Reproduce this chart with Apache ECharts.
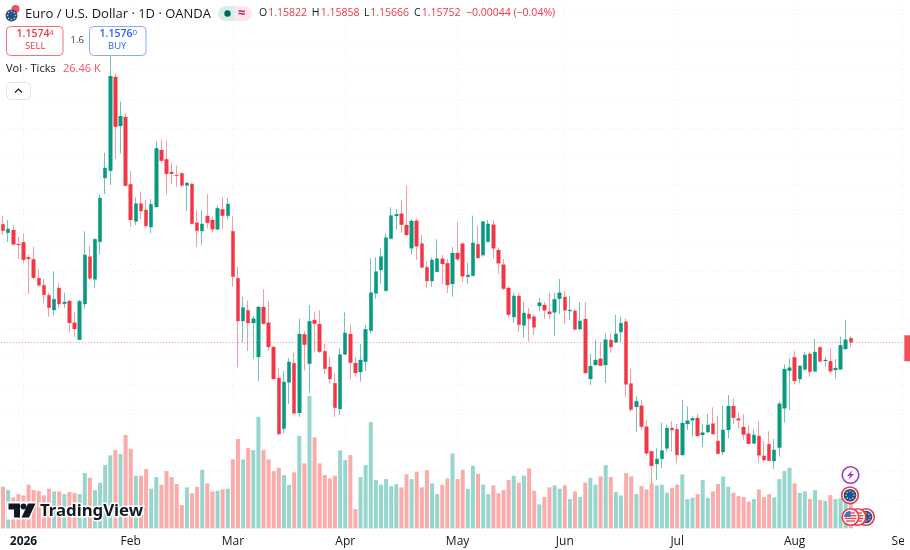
<!DOCTYPE html>
<html>
<head>
<meta charset="utf-8">
<style>html,body{margin:0;padding:0;background:#fff;overflow:hidden}#c{width:910px;height:550px}</style>
<script src="https://cdn.jsdelivr.net/npm/echarts@6/dist/echarts.min.js"></script>
</head>
<body>
<div id="c"></div>
<script>
const opens=[1.17813,1.17667,1.17714,1.17469,1.17499,1.17237,1.17202,1.1687,1.16748,1.16573,1.16316,1.16701,1.16426,1.16473,1.16094,1.15797,1.16421,1.17247,1.16853,1.17509,1.18622,1.1875,1.20387,1.19531,1.19688,1.18512,1.17866,1.18173,1.18063,1.17766,1.18116,1.19111,1.18949,1.18727,1.18675,1.18704,1.18495,1.18517,1.17841,1.17696,1.17958,1.17889,1.17726,1.18075,1.17964,1.17691,1.1687,1.16124,1.16311,1.16089,1.15495,1.16369,1.16094,1.1567,1.15128,1.14243,1.15053,1.15385,1.14517,1.15892,1.15378,1.16142,1.16072,1.15595,1.1532,1.15036,1.14587,1.15542,1.15897,1.1539,1.15233,1.15413,1.15955,1.16608,1.17015,1.16653,1.17562,1.17958,1.17999,1.17801,1.17394,1.17876,1.17474,1.17062,1.16823,1.16985,1.17212,1.17132,1.1677,1.17312,1.17474,1.16898,1.16915,1.17464,1.17277,1.17509,1.17806,1.17364,1.17108,1.16701,1.16194,1.16561,1.16049,1.16246,1.16199,1.16386,1.16404,1.16287,1.16276,1.16514,1.16543,1.16299,1.16299,1.15984,1.16159,1.15111,1.15355,1.15465,1.15355,1.15792,1.15752,1.15932,1.16112,1.15029,1.14622,1.14644,1.14277,1.13848,1.13626,1.13718,1.139,1.14255,1.14232,1.13783,1.14325,1.14389,1.1443,1.14132,1.14185,1.1433,1.14028,1.13835,1.1422,1.14639,1.14417,1.14272,1.14155,1.13987,1.14115,1.13766,1.1397,1.13678,1.13911,1.14599,1.15256,1.1549,1.15111,1.1528,1.15548,1.15245,1.15665,1.15425,1.1542,1.15268,1.1528,1.15635,1.15822];
const highs=[1.17958,1.17889,1.17801,1.17597,1.17656,1.17282,1.17422,1.17027,1.16858,1.16618,1.16992,1.16783,1.16618,1.16479,1.16281,1.16491,1.17691,1.17434,1.17569,1.1833,1.19064,1.20754,1.20451,1.19962,1.19753,1.18744,1.18285,1.18378,1.18238,1.18255,1.19263,1.19286,1.19274,1.1889,1.18844,1.18715,1.1854,1.1854,1.18063,1.18063,1.18337,1.17946,1.18145,1.18285,1.18273,1.17953,1.17073,1.16549,1.16479,1.16211,1.16386,1.16678,1.16468,1.15675,1.15298,1.15251,1.15478,1.1557,1.16164,1.15944,1.16404,1.16287,1.16311,1.15722,1.1549,1.1521,1.15647,1.16276,1.16059,1.155,1.15717,1.16054,1.17219,1.17237,1.17394,1.17656,1.1811,1.18081,1.18238,1.18488,1.17901,1.17918,1.17626,1.17172,1.17237,1.17551,1.17277,1.17207,1.17417,1.17854,1.17499,1.17143,1.17964,1.17784,1.17871,1.17889,1.17883,1.17412,1.17207,1.16735,1.16618,1.16618,1.16456,1.16356,1.16241,1.16531,1.16456,1.16618,1.16618,1.16858,1.16653,1.16561,1.16334,1.16456,1.16456,1.15548,1.15792,1.15752,1.15909,1.15909,1.16229,1.16199,1.16171,1.15285,1.14814,1.14744,1.14395,1.13858,1.139,1.14347,1.14307,1.14377,1.14325,1.14744,1.14627,1.14452,1.14494,1.14325,1.145,1.14616,1.1447,1.14639,1.14831,1.14774,1.14529,1.14494,1.14302,1.14232,1.14377,1.14028,1.14197,1.14063,1.14714,1.15368,1.15472,1.156,1.15343,1.15588,1.15588,1.1581,1.1567,1.155,1.15647,1.1546,1.1585,1.16142,1.15858];
const lows=[1.17626,1.17504,1.1744,1.17207,1.17132,1.16596,1.16853,1.16723,1.16433,1.16199,1.16217,1.16346,1.16356,1.15937,1.15845,1.15792,1.16339,1.1684,1.16706,1.17289,1.18343,1.185,1.18954,1.19054,1.1848,1.17771,1.17801,1.17901,1.17754,1.17656,1.18107,1.18879,1.18337,1.18517,1.18465,1.1846,1.18051,1.17813,1.17422,1.17447,1.17744,1.17674,1.17714,1.17737,1.17901,1.16723,1.15315,1.15752,1.156,1.15465,1.15076,1.16059,1.15605,1.15102,1.1412,1.14162,1.14674,1.14503,1.14447,1.15256,1.14866,1.15577,1.15565,1.15198,1.15029,1.14447,1.14482,1.1553,1.15099,1.15151,1.15064,1.15251,1.15909,1.16514,1.16776,1.16645,1.17557,1.17714,1.17667,1.17618,1.17289,1.1719,1.17045,1.16695,1.16723,1.1698,1.1677,1.16613,1.16549,1.17164,1.16805,1.16776,1.1691,1.17219,1.17247,1.17499,1.17212,1.1695,1.16666,1.16182,1.16089,1.15932,1.15832,1.15762,1.15879,1.16299,1.16164,1.16159,1.15867,1.16246,1.16072,1.16142,1.15955,1.15955,1.15198,1.15001,1.15343,1.15338,1.15041,1.1557,1.15734,1.15752,1.14791,1.1454,1.1419,1.14208,1.13771,1.13276,1.13346,1.13556,1.13841,1.13841,1.13635,1.13766,1.1422,1.14103,1.14092,1.13923,1.14162,1.14132,1.138,1.13783,1.14075,1.14325,1.1425,1.14045,1.13975,1.13982,1.13649,1.13661,1.13678,1.13538,1.13753,1.14347,1.14569,1.15018,1.15036,1.15256,1.15151,1.15233,1.15413,1.15326,1.15198,1.15123,1.15277,1.1563,1.15666];
const closes=[1.17702,1.17731,1.17464,1.17452,1.17195,1.17207,1.1688,1.16748,1.16583,1.16356,1.16503,1.16421,1.16456,1.16089,1.15984,1.16468,1.17277,1.1687,1.17551,1.18273,1.18797,1.20404,1.19518,1.19705,1.18488,1.17889,1.18173,1.18046,1.17784,1.18163,1.19141,1.18924,1.18697,1.18697,1.18662,1.18495,1.18535,1.17824,1.17702,1.17819,1.17841,1.17726,1.18093,1.17964,1.18168,1.16898,1.16124,1.16356,1.16089,1.16164,1.16369,1.16077,1.1567,1.15111,1.1415,1.15058,1.15408,1.14512,1.15897,1.1571,1.16119,1.16077,1.15588,1.15291,1.15111,1.14609,1.15535,1.15914,1.15396,1.15216,1.15443,1.15979,1.16618,1.16985,1.17247,1.17579,1.17964,1.17988,1.17806,1.17626,1.17871,1.17429,1.17062,1.16823,1.1719,1.17212,1.1712,1.16753,1.17312,1.17202,1.16905,1.16928,1.17487,1.17225,1.17859,1.17819,1.17394,1.17132,1.16688,1.16234,1.16561,1.16059,1.16264,1.16164,1.16014,1.16444,1.16311,1.16246,1.16503,1.16618,1.16311,1.16316,1.15979,1.16124,1.15216,1.15338,1.15443,1.15343,1.15797,1.1567,1.15897,1.16084,1.15018,1.14574,1.14721,1.14277,1.13813,1.13591,1.13713,1.13858,1.14255,1.1422,1.13783,1.14342,1.14382,1.14424,1.14115,1.14173,1.14307,1.1415,1.13806,1.1422,1.14639,1.14435,1.14389,1.14138,1.1398,1.14132,1.13778,1.13696,1.13683,1.1387,1.14679,1.15285,1.15308,1.15076,1.15338,1.1553,1.15238,1.15582,1.1542,1.15443,1.15245,1.15303,1.157,1.15797,1.15752];
const volumes=[37.5,34.5,27.9,30.9,29.7,39.3,34.5,33.6,29.7,35.7,33.3,33.3,30.9,32.7,31.8,30.9,49.8,45.6,34.5,41.1,57,65.7,70.5,66.9,84,71.7,47.4,47.4,53.4,35.7,46.2,39.3,51.6,46.2,39.9,21,36.9,31.5,37.5,52.8,40.5,33.3,33.9,35.1,35.7,62.1,80.4,62.1,72.3,70.5,100.5,70.5,62.1,51.6,54.6,48,39.3,50.4,83.4,58.5,119.2,81.9,58.5,48,45,47.4,70.2,61.5,66,17.4,46.2,57,95.7,43.5,39.3,44.4,38.1,39.9,36.9,48.6,44.4,51,36.9,52.5,40.5,30.9,39.3,45,67.5,44.4,52.8,35.7,56.4,49.2,39.3,30.9,38.7,31.5,34.5,43.5,47.4,41.1,47.4,54,33.9,21.6,28.2,36.9,38.7,35.7,38.7,26.4,33.3,28.2,41.1,45.6,39.3,46.8,57,46.2,32.7,29.7,49.8,46.8,30.9,38.1,35.1,40.5,38.7,39.3,32.1,36.3,39.3,48.6,26.4,27.6,30.9,43.5,27.6,33.3,39.9,46.8,37.5,32.1,29.1,28.2,24,26.4,35.1,28.2,30.9,27.9,44.4,51.6,54.6,40.5,32.1,33.3,26.4,34.5,25.5,24.6,30,26.4,27,24,26.46];
const tickIndex=[5,26,46,68,90,111,133,156,177];
const tickLabels=["2026","Feb","Mar","Apr","May","Jun","Jul","Aug","Sep"];
const lastClose=1.15752;
const ohlcRow=[["O","1.15822"],["H","1.15858"],["L","1.15666"],["C","1.15752"]];
const UP="#089981",DOWN="#f23645",UPW="#6cc5b6",DOWNW="#f99aa2",UPV="#97d6cd",DOWNV="#fcabab";
const FONT='"Open Sans","Noto Sans",sans-serif';

const cats=Array.from({length:180},(_,i)=>String(i));
const pad=a=>['-'].concat(a);
const wickData=pad(opens.map((o,i)=>[o,closes[i],lows[i],highs[i]]));
const bodyData=pad(opens.map((o,i)=>[o,closes[i],Math.min(o,closes[i]),Math.max(o,closes[i])]));
const volData=pad(volumes.map((v,i)=>({value:v,itemStyle:{color:closes[i]>=opens[i]?UPV:DOWNV}})));

const txt=(x,y,text,size,fill,extra)=>({type:'text',x,y,silent:true,z:100,style:Object.assign({text,fontSize:size,fill,fontFamily:FONT,textVerticalAlign:'middle'},extra||{})});
const box=(x,y,w,h,stroke,r)=>({type:'rect',silent:true,z:99,shape:{x,y,width:w,height:h,r:r||4},style:{fill:'#fff',stroke,lineWidth:1}});
const circ=(cx,cy,r,fill,stroke,lw,z)=>({type:'circle',silent:true,z:z||100,shape:{cx,cy,r},style:{fill,stroke,lineWidth:lw||0}});
const poly=(pts,fill,z,stroke,lw)=>({type:'polygon',silent:true,z:z||100,shape:{points:pts},style:{fill,stroke:stroke||null,lineWidth:lw||0}});
function euDots(cx,cy,r,z){const out=[];for(let k=0;k<8;k++){const a=k*Math.PI/4;out.push(circ(cx+r*Math.cos(a),cy+r*Math.sin(a),0.8,'#f5d020',null,0,z));}return out;}
function usFlag(cx,cy,z){
  const out=[circ(cx,cy,8.3,'#fff','#f23645',1.6,z),circ(cx,cy,6.3,'#fff',null,0,z)];
  [-4,-1.3,1.4,4].forEach(d=>{const hw=Math.sqrt(Math.max(0,36-d*d));out.push({type:'rect',silent:true,z:z,shape:{x:cx-hw,y:cy+d-0.7,width:2*hw,height:1.4},style:{fill:'#f0444f'}});});
  out.push({type:'sector',silent:true,z:z,shape:{cx,cy,r:6.3,r0:0,startAngle:Math.PI,endAngle:Math.PI*1.5},style:{fill:'#3f6fc9'}});
  return out;
}
const ohlcLabelX=[259,311.7,364,414];
const ohlcValueX=[268.3,320.7,370.3,421.7];
const ohlcEls=[];
ohlcRow.forEach((p,k)=>{
  ohlcEls.push(txt(ohlcLabelX[k],13.5,p[0],10.5,'#131722'));
  ohlcEls.push(txt(ohlcValueX[k],13.5,p[1],10.5,DOWN));
});
const graphics=[
  // price-axis strip at the right edge, which hides the overrun of the grid and the "Sep" label
  {type:'rect',silent:true,z:5,shape:{x:904,y:0,width:6,height:550},style:{fill:'#fff'}},
  circ(11.5,15.5,6,'#1e4f9e',null,0,101),
  circ(15.5,9,4,'#f2505a',null,0,100),
  ...euDots(11.5,15.5,4,102),
  txt(25,14,"Euro / U.S. Dollar · 1D · OANDA",13,'#131722'),
  {type:'rect',silent:true,z:99,shape:{x:218,y:6,width:17,height:15,r:[7.5,0,0,7.5]},style:{fill:'#d7efe9'}},
  {type:'rect',silent:true,z:99,shape:{x:235,y:6,width:17,height:15,r:[0,7.5,7.5,0]},style:{fill:'#fde6ec'}},
  circ(227.5,13.5,3.2,'#056656'),
  txt(238,13,"≈",13,'#c2185b',{fontWeight:'bold'}),
  ...ohlcEls,
  txt(466,13.5,"−0.00044 (−0.04%)",10.5,DOWN),
  box(6.5,26.5,56.5,29,'#f7707b'),
  box(89.5,26.5,56.5,29,'#8aaaff'),
  txt(16.5,34,"1.1574",10.5,DOWN,{fontWeight:600}),
  txt(49,32.5,"4",8,DOWN),
  txt(25,46.5,"SELL",9.5,DOWN),
  txt(70.5,40,"1.6",9.5,'#363a45'),
  txt(99.5,34,"1.1576",10.5,'#2962ff',{fontWeight:600}),
  txt(132.5,32.5,"0",8,'#2962ff'),
  txt(108,46.5,"BUY",9.5,'#2962ff'),
  txt(6,69,"Vol · Ticks",11,'#131722'),
  txt(63,69,"26.46 K",11,'#f7525f'),
  box(6.5,82.5,24,17,'#e0e3eb'),
  {type:'polyline',silent:true,z:100,shape:{points:[[15,92.5],[18.5,89],[22,92.5]]},style:{stroke:'#131722',lineWidth:1.2,fill:null}},
  poly([[8.5,503.5],[20,503.5],[20,517.5],[14,517.5],[14,509.5],[8.5,509.5]],'#131722',101,null,0),
  circ(23.5,506.5,3,'#131722',null,0,101),
  poly([[28,503.5],[35.5,503.5],[29,517.5],[21.5,517.5]],'#131722',101),
  poly([[6.5,501.5],[37,501.5],[30,519.5],[6.5,519.5]],'#fff',100),
  txt(40,511,"TradingView",16.8,'#131722',{fontWeight:'bold',stroke:'#fff',lineWidth:3,fontFamily:'"Noto Sans",sans-serif'}),
  circ(850.5,475,8.3,'#fff','#a23bc6',1.6,100),
  poly([[852.5,470],[847,476],[850.2,476],[848.5,480],[854,474],[850.8,474]],'#a23bc6',101),
  circ(850,495.3,8.3,'#fff','#f23645',1.6,100),
  circ(850,495.3,6.3,'#1e4f9e',null,0,101),
  ...euDots(850,495.3,4,102),
  circ(866,517,8.3,'#fff','#f23645',1.6,100),
  circ(866,517,6.3,'#1e4f9e',null,0,101),
  ...euDots(866,517,4,102),
  ...usFlag(857.5,517,103),
  ...usFlag(850.5,517,105)
];

const chart=echarts.init(document.getElementById('c'),null,{renderer:'canvas'});
chart.setOption({
  animation:false,
  backgroundColor:'#ffffff',
  grid:{left:-2.04,top:-1,width:914.15,height:529.4,containLabel:false,outerBoundsMode:'none'},
  xAxis:{type:'category',data:cats,boundaryGap:false,
    axisLine:{show:false},axisTick:{show:false},
    axisLabel:{
      show:true,margin:7,fontSize:12,color:'#131722',fontFamily:FONT,hideOverlap:false,
      interval:(i)=>tickIndex.includes(i),
      formatter:(v,i)=>{const k=tickIndex.indexOf(i);if(k<0)return '';return k===0?'{b|'+tickLabels[k]+'}':tickLabels[k];},
      rich:{b:{fontWeight:'bold',fontSize:12,color:'#131722',fontFamily:FONT}}
    },
    splitLine:{show:true,interval:(i)=>tickIndex.includes(i),lineStyle:{color:'#e9ecf2',type:[1,4],width:1}}
  },
  yAxis:[
    {type:'value',min:1.125,max:1.2175,interval:0.005,axisLabel:{show:false},axisLine:{show:false},axisTick:{show:false},
     splitLine:{show:true,showMinLine:false,showMaxLine:false,lineStyle:{color:'#e9ecf2',type:[1,4],width:1}}},
    {type:'value',min:0,max:476.5,show:false,splitLine:{show:false}}
  ],
  graphic:{elements:graphics},
  series:[
    {name:'Vol',type:'bar',yAxisIndex:1,data:volData,barWidth:4,z:1,silent:true,clip:false},
    {name:'Wicks',type:'candlestick',data:wickData,barWidth:3,z:2,silent:true,
     itemStyle:{color:UPW,color0:DOWNW,borderColor:UPW,borderColor0:DOWNW,borderWidth:1}},
    {name:'EURUSD',type:'candlestick',data:bodyData,barWidth:4,z:3,silent:true,
     itemStyle:{color:UP,color0:DOWN,borderColor:UP,borderColor0:DOWN,borderWidth:0},
     markLine:{silent:true,symbol:'none',animation:false,precision:5,z:3,label:{show:false},
       lineStyle:{color:'rgba(242,54,69,0.5)',type:[1,2],width:1},data:[{yAxis:lastClose}]},
     markPoint:{silent:true,animation:false,z:6,symbol:'rect',symbolSize:[12,26],symbolOffset:[3.3,6],
       itemStyle:{color:'#f4505c'},label:{show:false},data:[{coord:[String(178),lastClose]}]}
    }
  ]
});
</script>
</body>
</html>
